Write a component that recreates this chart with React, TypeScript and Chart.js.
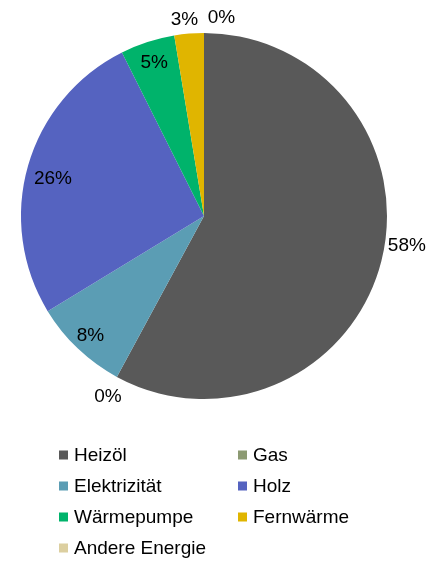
import React, { useEffect, useRef } from "react";
import { Chart, registerables } from "chart.js";

Chart.register(...registerables);

const categories = ["Heizöl", "Gas", "Elektrizität", "Holz", "Wärmepumpe", "Fernwärme", "Andere Energie"];
const values = [57.9, 0, 8.4, 26.3, 4.8, 2.6, 0];
const colors = ["#595959", "#8c9a72", "#5b9db4", "#5563c0", "#00b36b", "#e0b500", "#dccfa0"];

// label placement: radial factor and angle shift (degrees) relative to slice mid-angle
const labelPlacement = [
  { k: 1.12, d: -6 },
  { k: 1.12, d: -0.5 },
  { k: 0.9, d: 0 },
  { k: 0.85, d: -2.2 },
  { k: 0.88, d: 0 },
  { k: 1.08, d: -1 },
  { k: 1.09, d: 5 },
];

const FONT = "'Liberation Sans', Arial, sans-serif";

const labelPlugin = {
  id: "pctLabels",
  afterDatasetsDraw(chart: any) {
    const ctx = chart.ctx;
    const meta = chart.getDatasetMeta(0);
    const total = values.reduce((a, b) => a + b, 0);
    ctx.save();
    ctx.font = `19px ${FONT}`;
    ctx.fillStyle = "#000";
    ctx.textAlign = "center";
    ctx.textBaseline = "middle";
    meta.data.forEach((arc: any, i: number) => {
      const { x, y, startAngle, endAngle, outerRadius } = arc.getProps(
        ["x", "y", "startAngle", "endAngle", "outerRadius"],
        true
      );
      const p = labelPlacement[i];
      const mid = (startAngle + endAngle) / 2 + (p.d * Math.PI) / 180;
      const r = outerRadius * p.k;
      const lx = x + Math.cos(mid) * r;
      const ly = y + Math.sin(mid) * r;
      ctx.fillText(`${Math.round((values[i] / total) * 100)}%`, lx, ly);
    });
    ctx.restore();
  },
};

const legendPlugin = {
  id: "customLegend",
  afterDraw(chart: any) {
    const ctx = chart.ctx;
    const area = chart.chartArea;
    ctx.save();
    ctx.font = `19px ${FONT}`;
    ctx.textBaseline = "middle";
    ctx.textAlign = "left";
    const x0 = 59;
    const colW = 179;
    const y0 = area.bottom + 56;
    const rowH = 31;
    categories.forEach((c, i) => {
      const col = i % 2;
      const row = Math.floor(i / 2);
      const bx = x0 + col * colW;
      const by = y0 + row * rowH;
      ctx.fillStyle = colors[i];
      ctx.fillRect(bx, by - 4.5, 9, 9);
      ctx.fillStyle = "#000";
      ctx.fillText(c, bx + 15, by + 1);
    });
    ctx.restore();
  },
};

export default function App() {
  const ref = useRef<HTMLCanvasElement>(null);
  useEffect(() => {
    document.body.style.margin = "0";
    const chart = new Chart(ref.current!, {
      type: "pie",
      data: {
        labels: categories,
        datasets: [
          {
            data: values,
            backgroundColor: colors,
            borderWidth: 0,
          },
        ],
      },
      options: {
        animation: false,
        responsive: false,
        maintainAspectRatio: false,
        layout: { padding: { left: 21, right: 52, top: 33, bottom: 162 } },
        plugins: {
          legend: { display: false },
          tooltip: { enabled: false },
        },
      },
      plugins: [labelPlugin, legendPlugin],
    });
    return () => chart.destroy();
  }, []);
  return (
    <div style={{ width: 439, height: 561, background: "#fff" }}>
      <canvas ref={ref} width={439} height={561} style={{ display: "block" }} />
    </div>
  );
}
